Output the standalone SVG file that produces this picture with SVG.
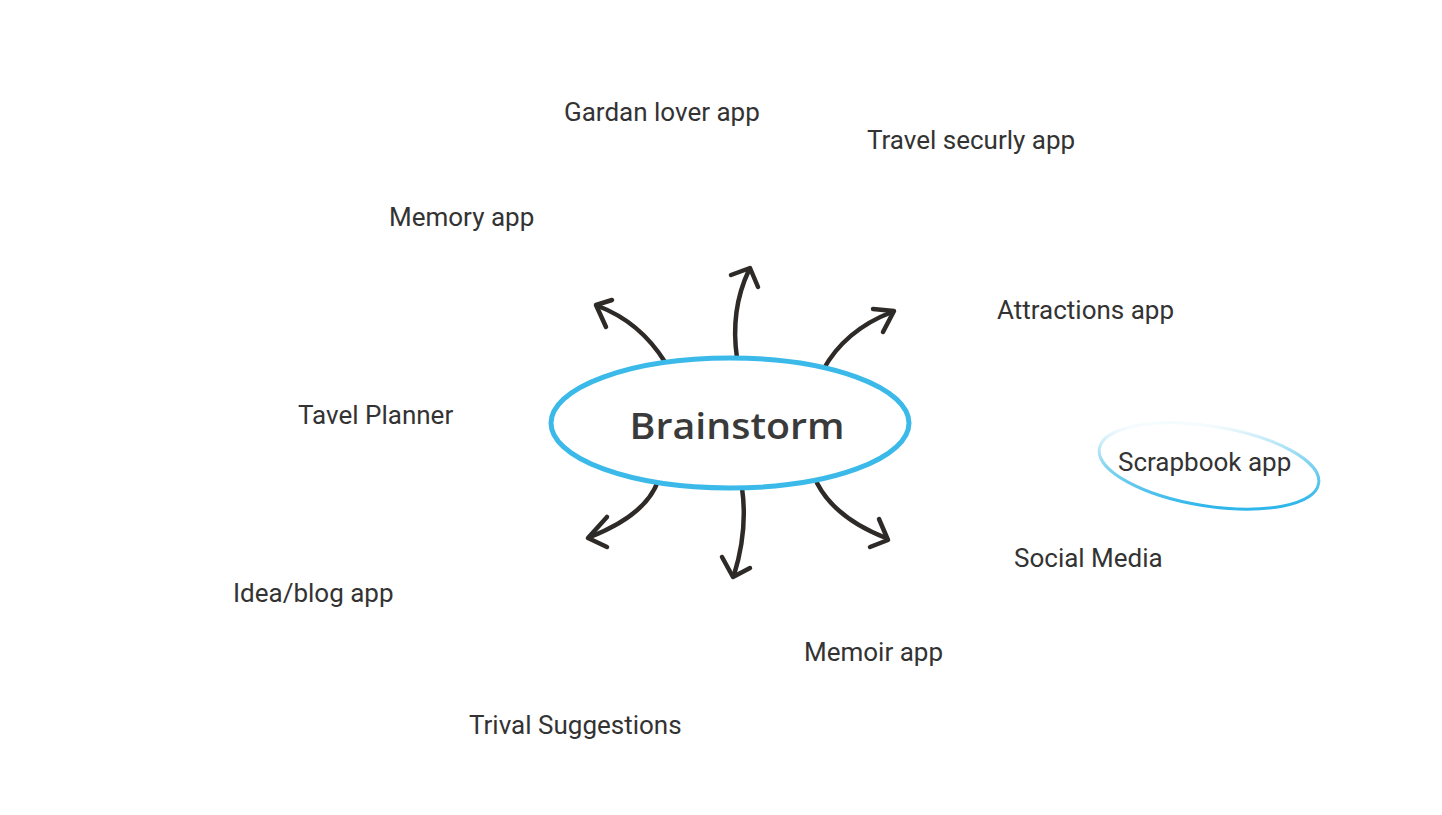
<svg xmlns="http://www.w3.org/2000/svg" width="1442" height="815" viewBox="0 0 1442 815">
<defs>
<style>
.lbl{font-family:Roboto,"Liberation Sans",sans-serif;font-size:26px;fill:#333333}
.arr{fill:none;stroke:#2e2a28;stroke-width:4.5;stroke-linecap:round;stroke-linejoin:round}
</style>
<linearGradient id="sg" gradientUnits="userSpaceOnUse" x1="1200" y1="426" x2="1215" y2="506">
<stop offset="0" stop-color="#3bbbe8" stop-opacity="0.05"/>
<stop offset="0.45" stop-color="#3bbbe8" stop-opacity="0.6"/>
<stop offset="1" stop-color="#2fb6ea"/>
</linearGradient>
</defs>
<rect width="1442" height="815" fill="#ffffff"/>
<g id="connectors">
<path class="arr" d="M665,362 Q640,322 598,306"/>
<path class="arr" d="M612,300 L596,305 L606,327"/>
<path class="arr" d="M737,358 Q730,310 749,270"/>
<path class="arr" d="M731,275 L750,268 L758,287"/>
<path class="arr" d="M823,370 Q845,330 892,312"/>
<path class="arr" d="M873,309 L894,311 L883,332"/>
<path class="arr" d="M658,481 Q646,515 590,537"/>
<path class="arr" d="M607,517 L588,538 L607,547"/>
<path class="arr" d="M742,488 Q748,530 734,575"/>
<path class="arr" d="M722,557 L733,577 L750,568"/>
<path class="arr" d="M817,483 Q835,518 886,538"/>
<path class="arr" d="M879,519 L888,540 L870,547"/>
</g>
<g id="brainstorm">
<ellipse cx="730" cy="423" rx="179" ry="65" fill="#ffffff" stroke="#3bb9e9" stroke-width="5"/>
<text x="737" y="439" text-anchor="middle" font-family="'Open Sans',Lato,sans-serif" font-weight="600" font-size="36" fill="#3a3a3a" textLength="215" lengthAdjust="spacingAndGlyphs">Brainstorm</text>
</g>
<g id="gardan"><text class="lbl" x="564" y="121">Gardan lover app</text></g>
<g id="travel-security"><text class="lbl" x="867" y="149">Travel securly app</text></g>
<g id="memory"><text class="lbl" x="389" y="226">Memory app</text></g>
<g id="attractions"><text class="lbl" x="997" y="319">Attractions app</text></g>
<g id="planner"><text class="lbl" x="298" y="424">Tavel Planner</text></g>
<g id="scrapbook">
<ellipse cx="1209" cy="466" rx="111" ry="40" transform="rotate(9 1209 466)" fill="none" stroke="url(#sg)" stroke-width="3"/>
<text class="lbl" x="1118" y="471">Scrapbook app</text>
</g>
<g id="social"><text class="lbl" x="1014" y="567">Social Media</text></g>
<g id="idea"><text class="lbl" x="233" y="602">Idea/blog app</text></g>
<g id="memoir"><text class="lbl" x="804" y="661">Memoir app</text></g>
<g id="trival"><text class="lbl" x="469" y="734">Trival Suggestions</text></g>
</svg>
